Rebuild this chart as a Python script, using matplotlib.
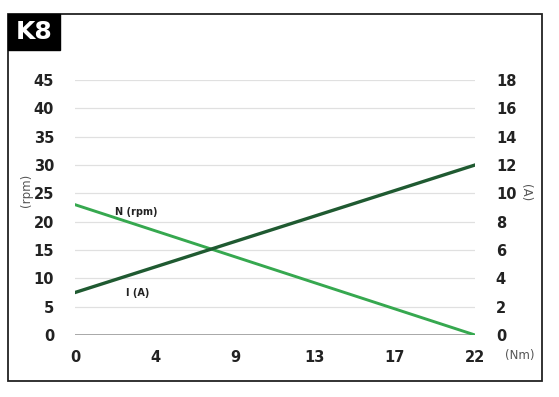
import matplotlib
matplotlib.use("Agg")
from matplotlib import pyplot as plt
from matplotlib.patches import Rectangle

torque_labels = ["0", "4", "9", "13", "17", "22"]
speed_rpm = [23, 18.4, 13.8, 9.2, 4.6, 0]
current_a = [3, 4.8, 6.6, 8.4, 10.2, 12]
left_ticks = [0, 5, 10, 15, 20, 25, 30, 35, 40, 45]
right_ticks = [0, 2, 4, 6, 8, 10, 12, 14, 16, 18]

W, H = 559, 397
fig = plt.figure(figsize=(W / 100, H / 100), dpi=100)
fig.patch.set_facecolor("white")

def fx(px):
    return px / W

def fy(py):
    return 1 - py / H

# outer frame and title box
fig.add_artist(Rectangle((fx(8), fy(381)), fx(542) - fx(8), fy(14) - fy(381),
                         transform=fig.transFigure, fill=False,
                         edgecolor="#222222", linewidth=1.3))
fig.add_artist(Rectangle((fx(8), fy(50)), fx(60) - fx(8), fy(14) - fy(50),
                         transform=fig.transFigure, facecolor="black",
                         edgecolor="black"))
fig.text(fx(34), fy(32), "K8", color="white", fontsize=18, fontweight="bold",
         ha="center", va="center")

ax = fig.add_axes([fx(75), fy(335), fx(475) - fx(75), fy(80) - fy(335)])
ax2 = ax.twinx()

x = list(range(len(torque_labels)))
ax.set_xlim(0, len(x) - 1)
ax.set_ylim(0, 45)
ax2.set_ylim(0, 18)

for v in left_ticks:
    ax.axhline(v, color="#999999" if v == 0 else "#e0e0e0",
               linewidth=1.2 if v == 0 else 0.9, zorder=0)

ax.plot(x, speed_rpm, color="#36a84f", linewidth=2.1, zorder=3)
ax2.plot(x, current_a, color="#1f5a31", linewidth=2.4, zorder=3)

ax.set_xticks(x)
ax.set_xticklabels(torque_labels)
ax.set_yticks(left_ticks)
ax2.set_yticks(right_ticks)

for a in (ax, ax2):
    for s in a.spines.values():
        s.set_visible(False)
    a.tick_params(length=0, labelsize=10.5)
    for lbl in a.get_xticklabels() + a.get_yticklabels():
        lbl.set_fontweight("bold")
        lbl.set_color("#222222")

ax.tick_params(axis="y", pad=15)
ax.tick_params(axis="x", pad=11)
ax2.tick_params(axis="y", pad=15)

ax.text(0.77, 21.7, "N (rpm)", fontsize=7, fontweight="bold", color="#222222",
        ha="center", va="center")
ax.text(0.78, 7.4, "I (A)", fontsize=7, fontweight="bold", color="#222222",
        ha="center", va="center")

fig.text(fx(27), fy(190), "(rpm)", rotation=90, fontsize=8.5, color="#555555",
         ha="center", va="center")
fig.text(fx(525), fy(193), "(A)", rotation=270, fontsize=8.5, color="#555555",
         ha="center", va="center")
fig.text(fx(520), fy(355), "(Nm)", fontsize=8.5, color="#555555",
         ha="center", va="center")

fig.savefig("out.png", dpi=100)
